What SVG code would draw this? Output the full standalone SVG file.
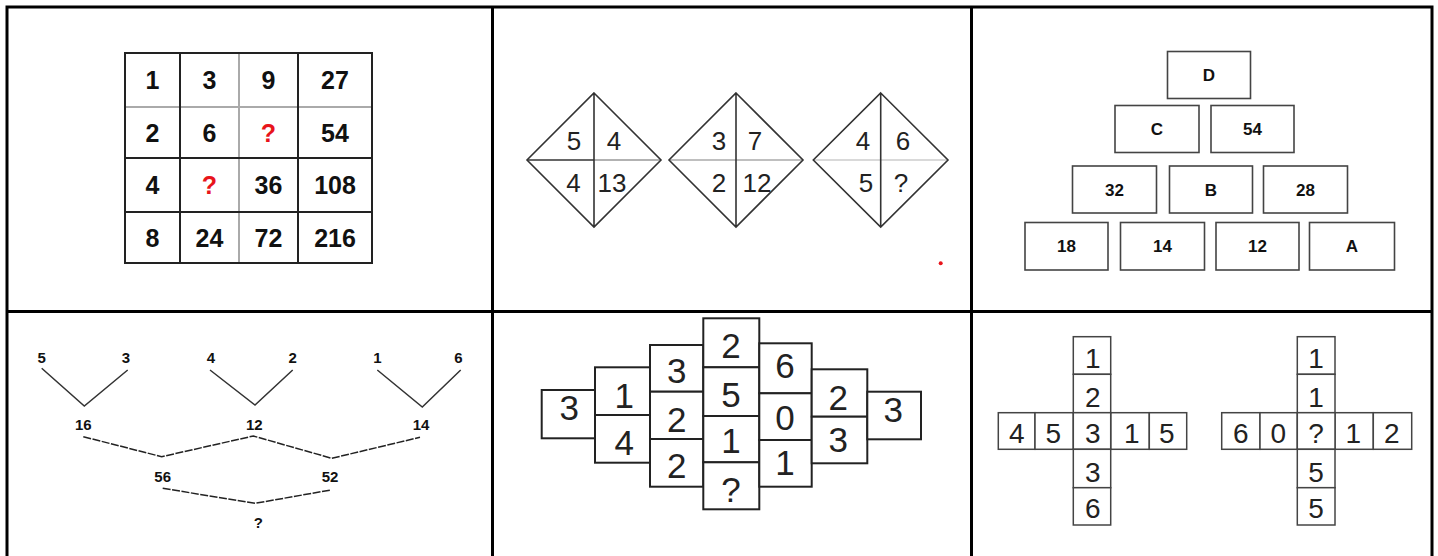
<svg xmlns="http://www.w3.org/2000/svg" width="1438" height="556" viewBox="0 0 1438 556">
<style>
.frame{stroke:#000;stroke-width:3;fill:none}
.b{font-family:"Liberation Sans",Arial,sans-serif;font-weight:bold;fill:#111;text-anchor:middle}
.r{font-family:"Liberation Sans",Arial,sans-serif;fill:#222;text-anchor:middle}
.g1{font-size:25px}
.red{fill:#e8141b}
.dk{stroke:#222;stroke-width:2;fill:none}
.lt{stroke:#aaa;stroke-width:2;fill:none}
.dia{stroke:#333;stroke-width:1.6;fill:none}
.d2{font-size:26px}
.box{stroke:#444;stroke-width:1.6;fill:#fff}
.p3{font-size:17px}
.lbl{font-size:15px}
.v{stroke:#333;stroke-width:1.5;fill:none}
.dash{stroke:#222;stroke-width:1.5;fill:none;stroke-dasharray:8 1.5}
.c5{stroke:#222;stroke-width:2;fill:#fff}
.t5{font-size:35px}
.c6{stroke:#444;stroke-width:1.5;fill:#fff}
.t6{font-size:28px}
</style>
<rect width="1438" height="556" fill="#fff"/>
<g id="frame">
<path class="frame" d="M7,556 V7 H1432 V556 M7,311.5 H1432 M492.5,7 V556 M971.5,7 V556"/>
</g>

<g id="grid-puzzle">
<rect x="125" y="53" width="247" height="210" fill="#fff" stroke="none"/>
<path class="lt" d="M125,107 H372 M239,53 V263"/>
<path class="dk" d="M125,53 H372 V263 H125 Z M125,158 H372 M125,212 H372 M180,53 V263 M298,53 V263"/>
<g class="b g1">
<text x="152.5" y="89">1</text><text x="209.5" y="89">3</text><text x="268.5" y="89">9</text><text x="335" y="89">27</text>
<text x="152.5" y="141.5">2</text><text x="209.5" y="141.5">6</text><text x="268.5" y="141.5" class="red">?</text><text x="335" y="141.5">54</text>
<text x="152.5" y="194">4</text><text x="209.5" y="194" class="red">?</text><text x="268.5" y="194">36</text><text x="335" y="194">108</text>
<text x="152.5" y="246.5">8</text><text x="209.5" y="246.5">24</text><text x="268.5" y="246.5">72</text><text x="335" y="246.5">216</text>
</g>
</g>

<g id="diamond-1">
<line x1="527" y1="160" x2="594" y2="160" stroke="#333" stroke-width="1.6"/>
<line x1="594" y1="160" x2="661" y2="160" stroke="#999" stroke-width="1.6"/>
<path class="dia" d="M594,93 L661,160 L594,227 L527,160 Z M594,93 V227"/>
<g class="r d2"><text x="574" y="150">5</text><text x="614" y="150">4</text><text x="573.5" y="192">4</text><text x="612" y="192">13</text></g>
</g>
<g id="diamond-2">
<line x1="669" y1="160" x2="803" y2="160" stroke="#aaa" stroke-width="1.6"/>
<path class="dia" d="M736,93 L803,160 L736,227 L669,160 Z M736,93 V227"/>
<g class="r d2"><text x="719" y="150">3</text><text x="755" y="150">7</text><text x="719" y="192">2</text><text x="757" y="192">12</text></g>
</g>
<g id="diamond-3">
<line x1="813" y1="160" x2="948" y2="160" stroke="#ccc" stroke-width="1.6"/>
<path class="dia" d="M880.7,93 L948,160 L880.7,227 L813.3,160 Z M880.7,93 V227"/>
<g class="r d2"><text x="863" y="150">4</text><text x="903" y="150">6</text><text x="866" y="192">5</text><text x="901" y="192">?</text></g>
</g>
<circle id="red-dot" cx="940.7" cy="263.3" r="2" fill="#e8141b"/>

<g id="pyramid">
<g id="box-D"><rect class="box" x="1167.5" y="51.5" width="83" height="47"/><text class="b p3" x="1209" y="81">D</text></g>
<g id="box-C"><rect class="box" x="1115" y="105.5" width="84" height="47"/><text class="b p3" x="1157" y="135">C</text></g>
<g id="box-54"><rect class="box" x="1211" y="105.5" width="83" height="47"/><text class="b p3" x="1252.5" y="135">54</text></g>
<g id="box-32"><rect class="box" x="1072.5" y="166" width="84" height="47"/><text class="b p3" x="1114.5" y="195.5">32</text></g>
<g id="box-B"><rect class="box" x="1169.5" y="166" width="83" height="47"/><text class="b p3" x="1211" y="195.5">B</text></g>
<g id="box-28"><rect class="box" x="1263.5" y="166" width="84" height="47"/><text class="b p3" x="1305.5" y="195.5">28</text></g>
<g id="box-18"><rect class="box" x="1025" y="222.5" width="83" height="47.5"/><text class="b p3" x="1066.5" y="252">18</text></g>
<g id="box-14"><rect class="box" x="1120.5" y="222.5" width="84" height="47.5"/><text class="b p3" x="1162.5" y="252">14</text></g>
<g id="box-12"><rect class="box" x="1216" y="222.5" width="83" height="47.5"/><text class="b p3" x="1257.5" y="252">12</text></g>
<g id="box-A"><rect class="box" x="1309.5" y="222.5" width="85" height="47.5"/><text class="b p3" x="1352" y="252">A</text></g>
</g>

<g id="tree-connectors">
<path class="v" d="M41.7,368.3 L84.3,406 L127.7,370"/>
<path class="v" d="M210,370 L255,405 L292.7,370"/>
<path class="v" d="M377.3,370 L422.3,407 L460.7,370"/>
<path class="dash" d="M83.3,436.7 L161.7,456.7 L253.3,436 L331.7,458.3 L420,437.3"/>
<path class="dash" d="M162.7,488.3 L255,503.3 L331,490"/>
</g>
<g id="tree-labels" class="b lbl">
<text id="n5" x="41.7" y="363">5</text><text id="n3" x="126" y="363">3</text>
<text id="n4" x="211" y="363">4</text><text id="n2" x="292.7" y="363">2</text>
<text id="n1" x="377.3" y="363">1</text><text id="n6" x="458.3" y="363">6</text>
<text id="n16" x="83.3" y="430">16</text><text id="n12" x="254.3" y="430">12</text><text id="n14" x="421" y="430">14</text>
<text id="n56" x="162.7" y="482">56</text><text id="n52" x="330" y="482">52</text>
<text id="nq" x="258.3" y="528.3">?</text>
</g>

<g id="hex-grid">
<rect class="c5" x="541.7" y="390" width="53.3" height="48.3"/>
<rect class="c5" x="595" y="367.3" width="55" height="47.7"/>
<rect class="c5" x="595" y="415" width="55" height="47.7"/>
<rect class="c5" x="650" y="345" width="53.3" height="46.7"/>
<rect class="c5" x="650" y="391.7" width="53.3" height="47.3"/>
<rect class="c5" x="650" y="439" width="53.3" height="47.7"/>
<rect class="c5" x="703.3" y="318.3" width="56" height="49"/>
<rect class="c5" x="703.3" y="367.3" width="56" height="48.7"/>
<rect class="c5" x="703.3" y="416" width="56" height="46.3"/>
<rect class="c5" x="703.3" y="462.3" width="56" height="47"/>
<rect class="c5" x="759.3" y="343.3" width="52.4" height="50"/>
<rect class="c5" x="759.3" y="393.3" width="52.4" height="46.7"/>
<rect class="c5" x="759.3" y="440" width="52.4" height="46.7"/>
<rect class="c5" x="811.7" y="369.3" width="55.6" height="47.4"/>
<rect class="c5" x="811.7" y="416.7" width="55.6" height="46.6"/>
<rect class="c5" x="867.3" y="391.7" width="53.7" height="47.6"/>
<g class="r t5">
<text x="569.3" y="420">3</text>
<text x="624.3" y="408.3">1</text><text x="624.3" y="455">4</text>
<text x="676.7" y="383.3">3</text><text x="676.7" y="431.7">2</text><text x="676.7" y="478.3">2</text>
<text x="731" y="358.3">2</text><text x="731" y="406.7">5</text><text x="731" y="453.3">1</text><text x="731" y="501.7">?</text>
<text x="785" y="378.3">6</text><text x="785" y="430">0</text><text x="785" y="475">1</text>
<text x="838.3" y="410">2</text><text x="838.3" y="451.7">3</text>
<text x="893.3" y="421.7">3</text>
</g>
</g>

<g id="cross-1">
<rect class="c6" x="998.3" y="412.7" width="36.7" height="36.6"/>
<rect class="c6" x="1035" y="412.7" width="38.3" height="36.6"/>
<rect class="c6" x="1110.7" y="412.7" width="38.6" height="36.6"/>
<rect class="c6" x="1149.3" y="412.7" width="37.4" height="36.6"/>
<rect class="c6" x="1073.3" y="336.7" width="37.4" height="37.6"/>
<rect class="c6" x="1073.3" y="374.3" width="37.4" height="38.4"/>
<rect class="c6" x="1073.3" y="412.7" width="37.4" height="36.6"/>
<rect class="c6" x="1073.3" y="449.3" width="37.4" height="38.4"/>
<rect class="c6" x="1073.3" y="487.7" width="37.4" height="37.3"/>
<g class="r t6">
<text x="1092.7" y="368.3">1</text><text x="1092.7" y="406.7">2</text><text x="1092.7" y="443.3">3</text><text x="1092.7" y="481.7">3</text><text x="1092.7" y="518.3">6</text>
<text x="1016.7" y="443.3">4</text><text x="1053.3" y="443.3">5</text><text x="1131.7" y="443.3">1</text><text x="1166.7" y="443.3">5</text>
</g>
</g>
<g id="cross-2">
<rect class="c6" x="1221.7" y="412.7" width="38.3" height="36.6"/>
<rect class="c6" x="1260" y="412.7" width="37.3" height="36.6"/>
<rect class="c6" x="1335" y="412.7" width="38.3" height="36.6"/>
<rect class="c6" x="1373.3" y="412.7" width="38.4" height="36.6"/>
<rect class="c6" x="1297.3" y="336.7" width="37.7" height="37.6"/>
<rect class="c6" x="1297.3" y="374.3" width="37.7" height="38.4"/>
<rect class="c6" x="1297.3" y="412.7" width="37.7" height="36.6"/>
<rect class="c6" x="1297.3" y="449.3" width="37.7" height="38.4"/>
<rect class="c6" x="1297.3" y="487.7" width="37.7" height="37.3"/>
<g class="r t6">
<text x="1316" y="368.3">1</text><text x="1316" y="406.7">1</text><text x="1316" y="443.3">?</text><text x="1316" y="481.7">5</text><text x="1316" y="518.3">5</text>
<text x="1240.7" y="443.3">6</text><text x="1278.3" y="443.3">0</text><text x="1353.3" y="443.3">1</text><text x="1391.7" y="443.3">2</text>
</g>
</g>
</svg>
